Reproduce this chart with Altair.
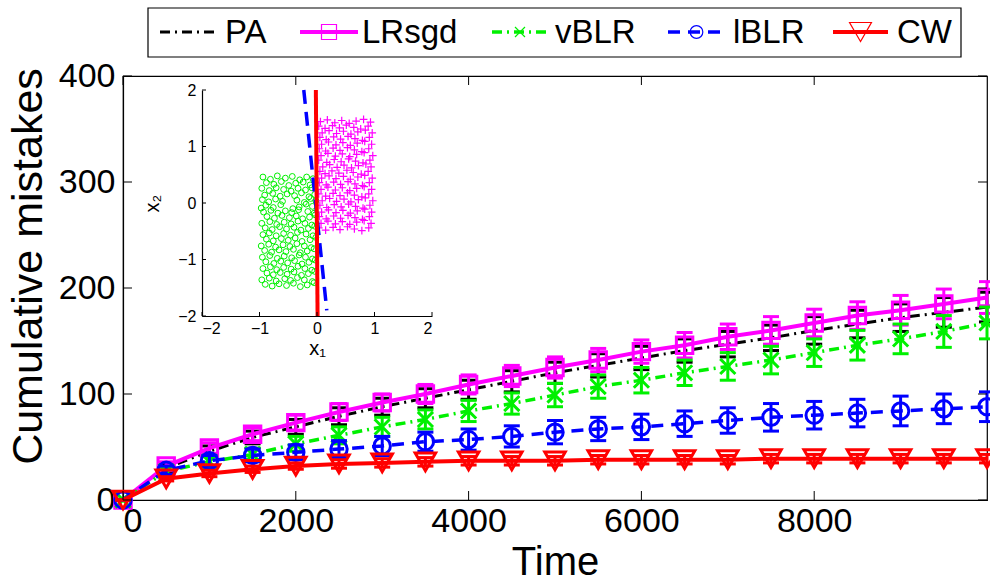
import altair as alt
import pandas as pd

# ---------------- data ----------------
times = [0, 500, 1000, 1500, 2000, 2500, 3000, 3500, 4000, 4500, 5000,
         5500, 6000, 6500, 7000, 7500, 8000, 8500, 9000, 9500, 10000]

methods = ["PA", "LRsgd", "vBLR", "lBLR", "CW"]

pa_mean = [0, 30, 46, 59, 69, 79, 88, 96, 104, 112, 120, 127, 134, 141, 147, 153, 160, 166, 172, 177, 182]
pa_err = [0, 4, 5, 6, 7, 8, 8, 9, 9, 10, 10, 11, 11, 11, 12, 12, 13, 13, 13, 14, 14]

lrsgd_mean = [0, 32, 49, 62, 73, 83, 92, 100, 109, 117, 125, 132, 140, 146, 154, 160, 167, 174, 179, 185, 191]
lrsgd_err = [0, 4, 5, 6, 7, 8, 8, 9, 9, 10, 10, 11, 11, 12, 12, 13, 13, 13, 14, 14, 15]

vblr_mean = [0, 27, 36, 43, 53, 61, 69, 76, 84, 91, 99, 107, 113, 120, 126, 132, 139, 146, 152, 159, 167]
vblr_err = [0, 4, 5, 6, 7, 8, 9, 9, 10, 10, 11, 11, 12, 12, 13, 13, 13, 14, 14, 15, 15]

lblr_mean = [0, 28, 37, 42, 45, 48, 51, 55, 57, 60, 64, 67, 69, 72, 75, 78, 80, 82, 84, 86, 88]
lblr_err = [0, 4, 5, 6, 7, 8, 9, 9, 10, 10, 11, 11, 12, 12, 12, 13, 13, 13, 14, 14, 14]

cw_mean = [0, 20, 25, 29, 32, 34, 35, 36, 37, 37, 37, 38, 38, 38, 38, 39, 39, 39, 39, 39, 39]
cw_err = [0, 2, 3, 3, 3, 4, 4, 4, 4, 4, 4, 4, 4, 4, 4, 4, 4, 4, 4, 4, 4]

x_ticks = [0, 2000, 4000, 6000, 8000]
y_ticks = [0, 100, 200, 300, 400]
inset_ticks = [-2, -1, 0, 1, 2]

# inset: class 1 (green circles)
green_pts = [
    (-0.94, 0.46), (-0.81, 0.42), (-0.69, 0.48), (-0.55, 0.44), (-0.43, 0.47), (-0.30, 0.41), (-0.18, 0.46), (-0.07, 0.43),
    (-0.88, 0.36), (-0.75, 0.33), (-0.62, 0.38), (-0.49, 0.31), (-0.37, 0.35), (-0.24, 0.37), (-0.12, 0.32), (-0.03, 0.36),
    (-0.96, 0.26), (-0.83, 0.22), (-0.71, 0.27), (-0.58, 0.24), (-0.45, 0.21), (-0.33, 0.26), (-0.20, 0.23), (-0.09, 0.27),
    (-0.91, 0.14), (-0.77, 0.17), (-0.64, 0.12), (-0.52, 0.16), (-0.39, 0.13), (-0.27, 0.18), (-0.14, 0.11), (-0.04, 0.15),
    (-0.95, 0.06), (-0.84, 0.02), (-0.72, 0.07), (-0.60, 0.03), (-0.35, 0.05), (-0.22, 0.01), (-0.11, 0.08), (-0.02, 0.04),
    (-0.89, -0.04), (-0.76, -0.08), (-0.63, -0.03), (-0.31, -0.07), (-0.19, -0.02), (-0.08, -0.06), (-0.97, -0.09), (-0.42, -0.10),
    (-0.93, -0.16), (-0.80, -0.13), (-0.68, -0.18), (-0.55, -0.14), (-0.44, -0.17), (-0.32, -0.12), (-0.16, -0.15), (-0.05, -0.18),
    (-0.87, -0.24), (-0.74, -0.27), (-0.61, -0.22), (-0.48, -0.26), (-0.36, -0.23), (-0.25, -0.28), (-0.13, -0.25), (-0.03, -0.21),
    (-0.96, -0.36), (-0.82, -0.33), (-0.70, -0.38), (-0.57, -0.34), (-0.45, -0.37), (-0.33, -0.32), (-0.21, -0.36), (-0.09, -0.39),
    (-0.90, -0.44), (-0.78, -0.47), (-0.65, -0.42), (-0.53, -0.46), (-0.40, -0.43), (-0.28, -0.48), (-0.15, -0.45), (-0.04, -0.41),
    (-0.94, -0.56), (-0.83, -0.53), (-0.71, -0.58), (-0.58, -0.54), (-0.46, -0.57), (-0.34, -0.52), (-0.19, -0.55), (-0.07, -0.58),
    (-0.88, -0.64), (-0.76, -0.67), (-0.62, -0.63), (-0.50, -0.66), (-0.38, -0.62), (-0.26, -0.68), (-0.12, -0.65), (-0.02, -0.61),
    (-0.97, -0.76), (-0.84, -0.73), (-0.72, -0.78), (-0.59, -0.74), (-0.47, -0.77), (-0.35, -0.72), (-0.22, -0.76), (-0.10, -0.79),
    (-0.91, -0.84), (-0.79, -0.87), (-0.66, -0.83), (-0.54, -0.86), (-0.41, -0.82), (-0.29, -0.88), (-0.17, -0.85), (-0.05, -0.81),
    (-0.95, -0.96), (-0.82, -0.93), (-0.69, -0.98), (-0.57, -0.94), (-0.44, -0.97), (-0.31, -0.92), (-0.20, -0.96), (-0.08, -0.99),
    (-0.89, -1.04), (-0.75, -1.07), (-0.63, -1.03), (-0.51, -1.06), (-0.39, -1.02), (-0.26, -1.08), (-0.14, -1.05), (-0.03, -1.01),
    (-0.94, -1.16), (-0.81, -1.13), (-0.70, -1.18), (-0.58, -1.14), (-0.45, -1.17), (-0.33, -1.12), (-0.21, -1.16), (-0.09, -1.19),
    (-0.87, -1.24), (-0.76, -1.27), (-0.64, -1.23), (-0.52, -1.26), (-0.40, -1.22), (-0.27, -1.28), (-0.15, -1.25), (-0.04, -1.21),
    (-0.96, -1.36), (-0.83, -1.33), (-0.71, -1.38), (-0.56, -1.34), (-0.46, -1.37), (-0.34, -1.32), (-0.22, -1.36), (-0.08, -1.39),
    (-0.90, -1.44), (-0.78, -1.47), (-0.66, -1.43), (-0.53, -1.46), (-0.41, -1.42), (-0.29, -1.48), (-0.17, -1.45), (-0.05, -1.41),
]

# inset: class 2 (magenta pluses)
magenta_pts = [
    (0.06, 1.44), (0.18, 1.47), (0.31, 1.42), (0.43, 1.46), (0.56, 1.41), (0.68, 1.45), (0.81, 1.48), (0.93, 1.43),
    (0.03, 1.36), (0.14, 1.32), (0.27, 1.37), (0.39, 1.33), (0.51, 1.38), (0.64, 1.34), (0.76, 1.31), (0.89, 1.36),
    (0.09, 1.24), (0.21, 1.28), (0.34, 1.23), (0.46, 1.27), (0.59, 1.22), (0.71, 1.26), (0.84, 1.29), (0.96, 1.24),
    (0.05, 1.16), (0.16, 1.12), (0.29, 1.17), (0.41, 1.13), (0.54, 1.18), (0.66, 1.14), (0.79, 1.11), (0.91, 1.16),
    (0.08, 1.04), (0.20, 1.08), (0.33, 1.03), (0.45, 1.07), (0.58, 1.02), (0.70, 1.06), (0.83, 1.09), (0.95, 1.04),
    (0.04, 0.96), (0.15, 0.92), (0.28, 0.97), (0.40, 0.93), (0.53, 0.98), (0.65, 0.94), (0.78, 0.91), (0.90, 0.96),
    (0.07, 0.84), (0.19, 0.88), (0.32, 0.83), (0.44, 0.87), (0.57, 0.82), (0.69, 0.86), (0.82, 0.89), (0.97, 0.84),
    (0.03, 0.76), (0.17, 0.72), (0.30, 0.77), (0.42, 0.73), (0.55, 0.78), (0.67, 0.74), (0.80, 0.71), (0.92, 0.76),
    (0.10, 0.64), (0.22, 0.68), (0.35, 0.63), (0.47, 0.67), (0.60, 0.62), (0.72, 0.66), (0.85, 0.69), (0.94, 0.64),
    (0.05, 0.56), (0.14, 0.52), (0.26, 0.57), (0.38, 0.53), (0.52, 0.58), (0.63, 0.54), (0.77, 0.51), (0.89, 0.56),
    (0.08, 0.44), (0.21, 0.48), (0.33, 0.43), (0.46, 0.47), (0.58, 0.42), (0.71, 0.46), (0.83, 0.49), (0.96, 0.44),
    (0.04, 0.36), (0.16, 0.32), (0.29, 0.37), (0.41, 0.33), (0.54, 0.38), (0.66, 0.34), (0.79, 0.31), (0.91, 0.36),
    (0.07, 0.24), (0.19, 0.28), (0.32, 0.23), (0.44, 0.27), (0.57, 0.22), (0.69, 0.26), (0.82, 0.29), (0.95, 0.24),
    (0.03, 0.16), (0.15, 0.12), (0.28, 0.17), (0.40, 0.13), (0.53, 0.18), (0.65, 0.14), (0.78, 0.11), (0.90, 0.16),
    (0.09, 0.04), (0.22, 0.08), (0.34, 0.03), (0.47, 0.07), (0.59, 0.02), (0.72, 0.06), (0.84, 0.09), (0.97, 0.04),
    (0.05, -0.04), (0.17, -0.08), (0.30, -0.03), (0.42, -0.07), (0.55, -0.02), (0.67, -0.06), (0.80, -0.09), (0.92, -0.04),
    (0.08, -0.16), (0.20, -0.12), (0.33, -0.17), (0.45, -0.13), (0.58, -0.18), (0.70, -0.14), (0.83, -0.11), (0.95, -0.16),
    (0.04, -0.24), (0.16, -0.28), (0.29, -0.23), (0.41, -0.27), (0.54, -0.22), (0.66, -0.26), (0.79, -0.29), (0.91, -0.24),
    (0.07, -0.36), (0.19, -0.32), (0.32, -0.37), (0.44, -0.33), (0.57, -0.38), (0.69, -0.34), (0.82, -0.31), (0.94, -0.36),
    (0.03, -0.44), (0.15, -0.48), (0.28, -0.43), (0.40, -0.47), (0.53, -0.42), (0.65, -0.46), (0.78, -0.49), (0.90, -0.44),
]

# decision boundaries in the inset
cw_boundary_x = [-0.02, 0.01]
cw_boundary_y = [2.0, -2.0]
lblr_boundary_x = [-0.23, 0.17]
lblr_boundary_y = [2.0, -1.9]

# ---------------- styles / layout ----------------
W, H = 864, 424
FONT = "Liberation Sans"
GREEN = "#00f000"
colors = {"PA": "#000000", "LRsgd": "#ff00ff", "vBLR": GREEN, "lBLR": "#0000ff", "CW": "#ff0000"}
dashes = {"PA": [10, 5, 2, 5], "LRsgd": None, "vBLR": [10, 5, 2, 5], "lBLR": [12, 8], "CW": None}
widths = {"PA": 3, "LRsgd": 4, "vBLR": 3.5, "lBLR": 3.5, "CW": 4}
XPATH = "M-1,-1L1,1M-1,1L1,-1"
PLUS = "M-1,0H1M0,-1V1"
CAP = "M-1,0H1"
shapes = {"PA": None, "LRsgd": "square", "vBLR": XPATH, "lBLR": "circle", "CW": "triangle-down"}
msizes = {"LRsgd": 270, "vBLR": 230, "lBLR": 270, "CW": 420}
leg_sizes = {"LRsgd": 225, "vBLR": 100, "lBLR": 160, "CW": 480}

xs = alt.Scale(domain=[0, 10000], nice=False, zero=False)
ys = alt.Scale(domain=[0, 400], nice=False)

x_axis = alt.Axis(values=x_ticks, title="Time", titleFontSize=40, titleFontWeight="normal",
                  labelFontSize=34, labelPadding=4, titlePadding=4, format="d")
y_axis = alt.Axis(values=y_ticks, title="Cumulative mistakes", titleFontSize=43, titleFontWeight="normal",
                  labelFontSize=34, labelPadding=8, titlePadding=8, titleY=190, format="d")


def X(field="time"):
    return alt.X(f"{field}:Q", scale=xs, axis=x_axis)


def Y(field):
    return alt.Y(f"{field}:Q", scale=ys, axis=y_axis)


series = {
    "PA": (pa_mean, pa_err),
    "LRsgd": (lrsgd_mean, lrsgd_err),
    "vBLR": (vblr_mean, vblr_err),
    "lBLR": (lblr_mean, lblr_err),
    "CW": (cw_mean, cw_err),
}

main_layers = []
for m in methods:
    mean, err = series[m]
    df = pd.DataFrame({
        "time": times,
        "value": mean,
        "lo": [a - b for a, b in zip(mean, err)],
        "hi": [a + b for a, b in zip(mean, err)],
    })
    base = alt.Chart(df)
    c = colors[m]
    lk = dict(color=c, strokeWidth=widths[m])
    if dashes[m]:
        lk["strokeDash"] = dashes[m]
    main_layers.append(base.mark_line(**lk).encode(x=X(), y=Y("value")))
    main_layers.append(base.mark_rule(color=c, strokeWidth=3).encode(x=X(), y=Y("lo"), y2="hi:Q"))
    for f in ["lo", "hi"]:
        main_layers.append(base.mark_point(shape=CAP, size=256, strokeWidth=3, color=c, filled=False,
                                           opacity=1).encode(x=X(), y=Y(f)))
    if shapes[m]:
        main_layers.append(base.mark_point(shape=shapes[m], size=msizes[m], strokeWidth=3, color=c,
                                           filled=False, opacity=1).encode(x=X(), y=Y("value")))

# inward (and mirrored) ticks of the main box
xt = alt.Chart(pd.DataFrame({"time": x_ticks}))
yt = alt.Chart(pd.DataFrame({"value": y_ticks}))
main_layers += [
    xt.mark_rule(color="black", strokeWidth=1).encode(x=X(), y=alt.value(H), y2=alt.value(H - 9)),
    xt.mark_rule(color="black", strokeWidth=1).encode(x=X(), y=alt.value(0), y2=alt.value(9)),
    yt.mark_rule(color="black", strokeWidth=1).encode(y=Y("value"), x=alt.value(0), x2=alt.value(9)),
    yt.mark_rule(color="black", strokeWidth=1).encode(y=Y("value"), x=alt.value(W), x2=alt.value(W - 9)),
]

# legend box (drawn above the plot area)
one = pd.DataFrame({"k": [0]})
main_layers.append(alt.Chart(one).mark_rect(fill="white", stroke="black", strokeWidth=1.2).encode(
    x=alt.value(25), x2=alt.value(838), y=alt.value(-68), y2=alt.value(-19)))
leg_line = {"PA": (37, 95), "LRsgd": (177, 235), "vBLR": (369, 425), "lBLR": (545, 602), "CW": (710, 765)}
leg_text = {"PA": 102, "LRsgd": 239, "vBLR": 432, "lBLR": 610, "CW": 774}
LY = -44
for m in methods:
    x0, x1 = leg_line[m]
    lk = dict(color=colors[m], strokeWidth=widths[m])
    if dashes[m]:
        lk["strokeDash"] = dashes[m]
    main_layers.append(alt.Chart(one).mark_rule(**lk).encode(
        x=alt.value(x0), x2=alt.value(x1), y=alt.value(LY)))
    if shapes[m]:
        main_layers.append(alt.Chart(one).mark_point(shape=shapes[m], size=leg_sizes[m], strokeWidth=1.2,
                                                     color=colors[m], filled=False, opacity=1).encode(
            x=alt.value((x0 + x1) / 2), y=alt.value(LY)))
    main_layers.append(alt.Chart(one).mark_text(text=m, fontSize=33, align="left", baseline="middle",
                                                color="black", font=FONT).encode(
        x=alt.value(leg_text[m]), y=alt.value(LY + 1)))

main = alt.layer(*main_layers)

# ---------------- inset ----------------
ixs = alt.Scale(domain=[-2, 2], range=[79, 309], nice=False, zero=False)
iys = alt.Scale(domain=[-2, 2], range=[240, 14], nice=False, zero=False)
ix_axis = alt.Axis(orient="bottom", offset=-(H - 240), values=inset_ticks, title="x\u2081",
                   titleFontSize=20, titleFontWeight="normal", labelFontSize=16, labelPadding=4,
                   titlePadding=2, format="d")
iy_axis = alt.Axis(orient="left", offset=-79, values=inset_ticks, title="x\u2082",
                   titleFontSize=20, titleFontWeight="normal", labelFontSize=16, labelPadding=6,
                   titlePadding=15, format="d")


def IX(f="x"):
    return alt.X(f"{f}:Q", scale=ixs, axis=ix_axis)


def IY(f="y"):
    return alt.Y(f"{f}:Q", scale=iys, axis=iy_axis)


gdf = pd.DataFrame(green_pts, columns=["x", "y"])
mdf = pd.DataFrame(magenta_pts, columns=["x", "y"])
cwb = pd.DataFrame({"x": cw_boundary_x, "y": cw_boundary_y})
lbb = pd.DataFrame({"x": lblr_boundary_x, "y": lblr_boundary_y})
itx = alt.Chart(pd.DataFrame({"x": inset_ticks}))
ity = alt.Chart(pd.DataFrame({"y": inset_ticks}))

inset_layers = [
    alt.Chart(gdf).mark_point(shape="circle", size=34, strokeWidth=1, color=GREEN, filled=False,
                              opacity=1).encode(x=IX(), y=IY()),
    alt.Chart(mdf).mark_point(shape=PLUS, size=60, strokeWidth=1.2, color="#ff00ff", filled=False,
                              opacity=1).encode(x=IX(), y=IY()),
    alt.Chart(lbb).mark_line(color="#0000ff", strokeWidth=3.5, strokeDash=[14, 8]).encode(
        x=IX(), y=IY(), order=alt.Order("y:Q", sort="descending")),
    alt.Chart(cwb).mark_line(color="#ff0000", strokeWidth=4).encode(
        x=IX(), y=IY(), order=alt.Order("y:Q", sort="descending")),
    itx.mark_rule(color="black", strokeWidth=1).encode(x=IX(), y=alt.value(240), y2=alt.value(236)),
    ity.mark_rule(color="black", strokeWidth=1).encode(y=IY(), x=alt.value(79), x2=alt.value(83)),
]
inset = alt.layer(*inset_layers)

chart = alt.layer(main, inset).resolve_scale(x="independent", y="independent").properties(
    width=W, height=H,
    padding={"left": 123, "top": 76, "right": 3, "bottom": 82},
    autosize=alt.AutoSizeParams(type="none"),
    background="white",
).configure(font=FONT).configure_view(stroke="black", strokeWidth=1.2).configure_axis(
    grid=False, ticks=False, tickSize=0, domainColor="black", domainWidth=1.2,
    labelColor="black", titleColor="black", labelFont=FONT, titleFont=FONT,
)

chart.save("out.html", embed_options={"renderer": "svg", "actions": False})
